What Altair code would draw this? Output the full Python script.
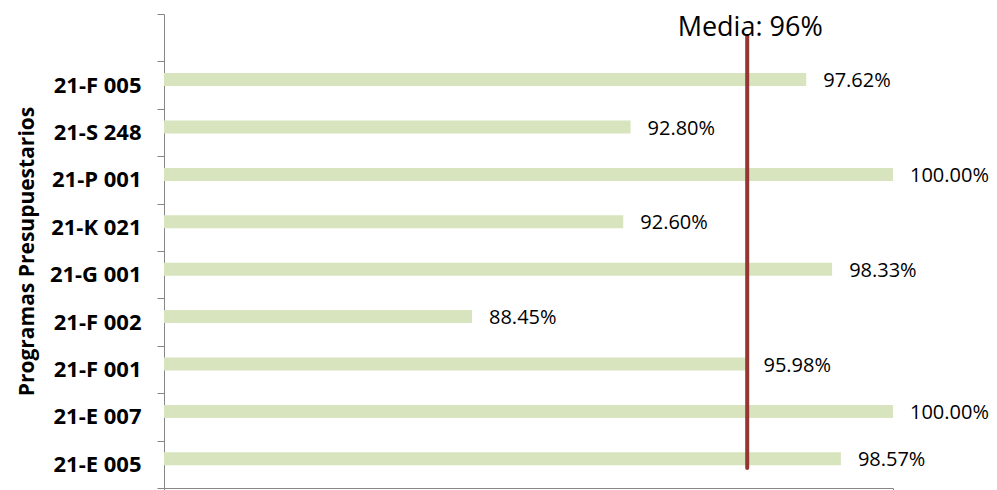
import altair as alt
import pandas as pd

categories = [" ", "21-F 005", "21-S 248", "21-P 001", "21-K 021", "21-G 001",
              "21-F 002", "21-F 001", "21-E 007", "21-E 005"]
programs = ["21-F 005", "21-S 248", "21-P 001", "21-K 021", "21-G 001",
            "21-F 002", "21-F 001", "21-E 007", "21-E 005"]
values = [97.62, 92.80, 100.00, 92.60, 98.33, 88.45, 95.98, 100.00, 98.57]
media_value = [96]
media_label = ["Media: 96%"]
x_ticks = [80, 100]

FONT = "Open Sans"

df = pd.DataFrame({"programa": programs, "valor": values})
df_media = pd.DataFrame({"media": media_value, "label": media_label})

y_enc = alt.Y("programa:N", sort=categories,
              scale=alt.Scale(domain=categories, paddingInner=0, paddingOuter=0),
              axis=alt.Axis(title="Programas Presupuestarios", titleFont=FONT,
                            titleFontSize=21, titleFontWeight="bold", titleColor="#000000",
                            titleX=-127, titleY=237, titleAngle=-90,
                            labelFont=FONT, labelFontSize=22, labelFontWeight="bold",
                            labelColor="#000000", labelPadding=16,
                            tickBand="extent", tickSize=7, tickColor="#868686",
                            domainColor="#868686", grid=False))
x_scale = alt.Scale(domain=[80, 100], nice=False, zero=False)
x_axis = alt.Axis(title=None, labels=False, values=x_ticks, tickSize=5,
                  tickColor="#868686", domainColor="#868686", grid=False)

bars = alt.Chart(df).mark_bar(color="#d7e4bd", size=13, yOffset=-5.5).encode(
    x=alt.X("valor:Q", scale=x_scale, axis=x_axis),
    x2=alt.datum(80),
    y=y_enc,
)

labels = alt.Chart(df).transform_calculate(
    lbl="format(datum.valor, '.2f') + '%'"
).mark_text(align="left", baseline="middle", dx=17, yOffset=-4,
            font=FONT, fontSize=20, color="#000000").encode(
    x=alt.X("valor:Q", scale=x_scale, axis=x_axis),
    y=y_enc,
    text="lbl:N",
)

rule = alt.Chart(df_media).mark_rule(color="#943634", strokeWidth=4, strokeCap="round").encode(
    x=alt.X("media:Q", scale=x_scale, axis=x_axis),
    y=alt.value(22),
    y2=alt.value(454),
)

media_text = alt.Chart(df_media).mark_text(align="center", baseline="alphabetic", dx=3,
                                           font=FONT, fontSize=27, color="#000000").encode(
    x=alt.X("media:Q", scale=x_scale, axis=x_axis),
    y=alt.value(22),
    text="label:N",
)

chart = alt.layer(bars, labels, rule, media_text).properties(
    width=729, height=474,
    background="#ffffff",
    autosize=alt.AutoSizeParams(type="none"),
    padding={"left": 156, "top": 6, "right": 96, "bottom": 10},
).configure_view(stroke=None)

chart.save("out.html", embed_options={"renderer": "svg", "actions": False})
